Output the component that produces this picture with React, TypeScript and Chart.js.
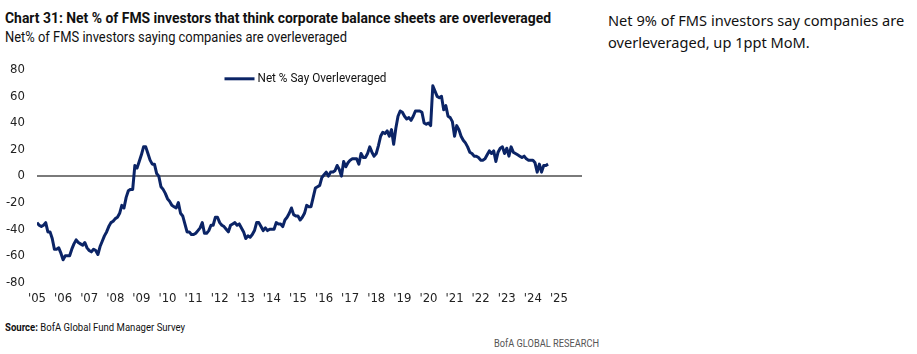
import { useEffect, useLayoutEffect, useRef } from 'react';
import { Chart, registerables } from 'chart.js';

Chart.register(...registerables);

// Tick labels (one per January, 2005..2025)
const yearLabels = ["'05", "'06", "'07", "'08", "'09", "'10", "'11", "'12", "'13", "'14", "'15", "'16", "'17", "'18", "'19", "'20", "'21", "'22", "'23", "'24", "'25"];
const yTickValues = [80, 60, 40, 20, 0, -20, -40, -60, -80];
const seriesName = 'Net % Say Overleveraged';

// Monthly values, Jan 2005 .. Aug 2024
const v2005 = [-35, -37, -38, -37, -35, -42, -42, -47, -55, -55, -54, -58];
const v2006 = [-63, -60, -60, -60, -55, -51, -48, -50, -51, -52, -50, -54];
const v2007 = [-56, -57, -55, -56, -59, -53, -49, -45, -42, -38, -35, -34];
const v2008 = [-32, -31, -28, -22, -24, -16, -11, -10, -10, 8, 6, 11];
const v2009 = [16, 22, 22, 17, 12, 9, 9, 2, 0, -8, -10, -13];
const v2010 = [-17, -19, -22, -23, -24, -20, -28, -30, -36, -42, -42, -44];
const v2011 = [-44, -43, -41, -39, -35, -43, -43, -41, -37, -37, -31, -31];
const v2012 = [-35, -37, -38, -40, -42, -37, -36, -35, -37, -36, -39, -42];
const v2013 = [-47, -45, -46, -44, -41, -35, -35, -38, -41, -39, -41, -40];
const v2014 = [-40, -40, -35, -36, -36, -38, -33, -31, -28, -24, -29, -30];
const v2015 = [-30, -33, -31, -28, -22, -23, -23, -16, -9, -8, -7, -1];
const v2016 = [1, 3, 0, 3, 3, 4, 8, 5, 0, 11, 7, 10];
const v2017 = [12, 13, 13, 13, 9, 17, 14, 14, 17, 22, 18, 15];
const v2018 = [17, 23, 30, 33, 32, 34, 30, 35, 24, 36, 45, 49];
const v2019 = [48, 45, 43, 44, 42, 45, 49, 49, 49, 48, 40, 39];
const v2020 = [40, 38, 68, 64, 60, 59, 60, 50, 53, 45, 44, 41];
const v2021 = [30, 38, 35, 30, 27, 25, 22, 18, 17, 15, 15, 14];
const v2022 = [12, 12, 13, 16, 19, 17, 19, 11, 18, 21, 22, 17];
const v2023 = [21, 15, 22, 18, 17, 16, 15, 14, 15, 13, 12, 12];
const v2024 = [12, 10, 3, 9, 3, 8, 8, 9];

const netOverleveraged = [
  ...v2005, ...v2006, ...v2007, ...v2008, ...v2009, ...v2010, ...v2011,
  ...v2012, ...v2013, ...v2014, ...v2015, ...v2016, ...v2017, ...v2018,
  ...v2019, ...v2020, ...v2021, ...v2022, ...v2023, ...v2024,
];

const NAVY = '#0b2466';
const NARROW = "'DejaVu Sans Condensed', sans-serif";
const TEXTFONT = "Roboto, 'Noto Sans', sans-serif";

// Draws the dataset legend inside the plot area, near its top
const inlineLegend = {
  id: 'inlineLegend',
  afterDraw(chart: any) {
    const { ctx, chartArea } = chart;
    const ds = chart.data.datasets[0];
    const lineLen = 30;
    const gap = 3;
    const targetTextW = 129;
    ctx.save();
    ctx.font = `13px ${TEXTFONT}`;
    const natural = ctx.measureText(ds.label).width;
    const sx = targetTextW / natural;
    const total = lineLen + gap + targetTextW;
    const x0 = (chartArea.left + chartArea.right) / 2 - total / 2 - 4;
    const y = chartArea.top + 9;
    ctx.strokeStyle = ds.borderColor;
    ctx.lineWidth = 3;
    ctx.beginPath();
    ctx.moveTo(x0, y);
    ctx.lineTo(x0 + lineLen, y);
    ctx.stroke();
    ctx.fillStyle = '#111';
    ctx.textBaseline = 'middle';
    ctx.translate(x0 + lineLen + gap, y);
    ctx.scale(sx, 1);
    ctx.fillText(ds.label, 0, 0);
    ctx.restore();
  },
};

function LineChart() {
  const ref = useRef<HTMLCanvasElement | null>(null);
  useEffect(() => {
    if (!ref.current) return;
    const chart = new Chart(ref.current, {
      type: 'line',
      data: {
        datasets: [
          {
            label: seriesName,
            data: netOverleveraged.map((v, i) => ({ x: i, y: v })),
            borderColor: NAVY,
            backgroundColor: NAVY,
            borderWidth: 3,
            pointRadius: 0,
            tension: 0,
            borderJoinStyle: 'round',
          },
        ],
      },
      options: {
        animation: false,
        responsive: false,
        maintainAspectRatio: false,
        layout: { padding: { top: 13, bottom: 5, left: 0, right: 8 } },
        scales: {
          x: {
            type: 'linear',
            min: 0,
            max: 250.6,
            afterBuildTicks: (s: any) => {
              s.ticks = yearLabels.map((_, i) => ({ value: i * 12 }));
            },
            ticks: {
              autoSkip: false,
              maxRotation: 0,
              padding: 0,
              color: '#222',
              font: { family: NARROW, size: 13 },
              callback: (v: any) => yearLabels[Math.round(Number(v) / 12)],
            },
            grid: { display: false },
            border: { display: false },
          },
          y: {
            min: -80,
            max: 80,
            afterBuildTicks: (s: any) => {
              s.ticks = yTickValues.map((v) => ({ value: v }));
            },
            afterFit: (s: any) => {
              s.width = 37;
            },
            ticks: {
              padding: 12,
              color: '#222',
              font: { family: NARROW, size: 13 },
            },
            grid: {
              drawTicks: false,
              lineWidth: 2,
              color: (ctx: any) => (ctx.tick && ctx.tick.value === 0 ? '#7a7a7a' : 'rgba(0,0,0,0)'),
            },
            border: { display: false },
          },
        },
        plugins: {
          tooltip: { enabled: false },
          title: { display: false },
          legend: { display: false },
        },
      },
      plugins: [inlineLegend],
    } as any);
    return () => chart.destroy();
  }, []);
  return <canvas ref={ref} width={590} height={261} style={{ position: 'absolute', left: 0, top: 50, width: 590, height: 261 }} />;
}

// Text squeezed horizontally to a target width (the original uses a condensed face)
function FitText({ width, style, children }: { width: number; style: any; children: any }) {
  const ref = useRef<HTMLSpanElement | null>(null);
  useLayoutEffect(() => {
    const fit = () => {
      const el = ref.current;
      if (!el) return;
      el.style.transform = 'none';
      const w = el.getBoundingClientRect().width;
      if (w > 0) el.style.transform = `scaleX(${width / w})`;
    };
    fit();
    if ((document as any).fonts && (document as any).fonts.ready) (document as any).fonts.ready.then(fit);
  }, [width]);
  return (
    <span ref={ref} style={{ position: 'absolute', display: 'inline-block', whiteSpace: 'nowrap', transformOrigin: '0 0', ...style }}>
      {children}
    </span>
  );
}

export default function App() {
  return (
    <div style={{ position: 'absolute', left: 0, top: 0, width: 917, height: 354, background: '#fff', overflow: 'hidden' }}>
      <FitText width={546} style={{ left: 5, top: 9, fontFamily: TEXTFONT, fontWeight: 700, fontSize: 14, lineHeight: '18px', color: '#111' }}>
        Chart 31: Net % of FMS investors that think corporate balance sheets are overleveraged
      </FitText>
      <FitText width={342} style={{ left: 5, top: 28, fontFamily: TEXTFONT, fontSize: 14, lineHeight: '18px', color: '#111' }}>
        Net% of FMS investors saying companies are overleveraged
      </FitText>
      <div style={{ position: 'absolute', left: 608, top: 9, width: 306, fontFamily: "'Noto Sans', sans-serif", fontSize: 14.6, lineHeight: '22px', color: '#111' }}>
        Net 9% of FMS investors say companies are overleveraged, up 1ppt MoM.
      </div>
      <LineChart />
      <FitText width={180} style={{ left: 5, top: 321, fontFamily: TEXTFONT, fontSize: 11, lineHeight: '14px', color: '#111' }}>
        <b>Source:</b> BofA Global Fund Manager Survey
      </FitText>
      <FitText width={105} style={{ left: 494, top: 337, fontFamily: TEXTFONT, fontSize: 11, lineHeight: '14px', color: '#555' }}>
        BofA GLOBAL RESEARCH
      </FitText>
    </div>
  );
}
